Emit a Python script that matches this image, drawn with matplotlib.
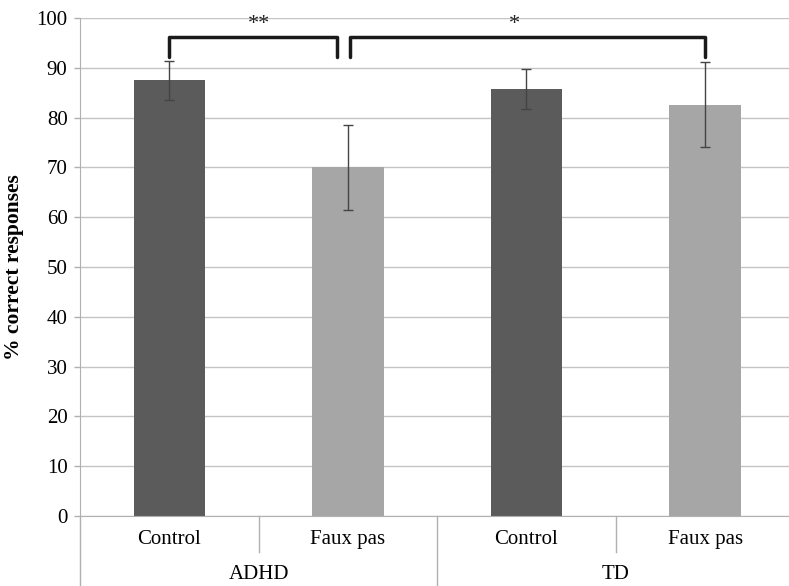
import matplotlib.pyplot as plt
import matplotlib.transforms as mtransforms

conditions = ['Control', 'Faux pas', 'Control', 'Faux pas']
groups = ['ADHD', 'TD']
means = [87.5, 70.0, 85.8, 82.6]
errors = [3.9, 8.5, 4.0, 8.5]
colors = ['#5b5b5b', '#a6a6a6', '#5b5b5b', '#a6a6a6']
yticks = [0, 10, 20, 30, 40, 50, 60, 70, 80, 90, 100]

plt.rcParams['font.family'] = ['Liberation Serif', 'DejaVu Serif']

fig = plt.figure(figsize=(7.89, 5.86), dpi=100)
ax = fig.add_axes([80 / 789, 70 / 586, 1 - 80 / 789, 498 / 586])

x = range(len(means))
ax.bar(x, means, width=0.4, color=colors, zorder=2)
ax.errorbar(x, means, yerr=errors, fmt='none', ecolor='#444444',
            elinewidth=1.0, capsize=3.5, capthick=1.0, zorder=3)

ax.set_xlim(-0.5, 3.47)
ax.set_ylim(0, 100)
ax.set_yticks(yticks)
ax.yaxis.grid(True, color='#c4c4c4', linewidth=1.0, zorder=0)
ax.tick_params(axis='y', labelsize=15, length=4, color='#b0b0b0', width=1, pad=5)
ax.tick_params(axis='x', bottom=False, labelbottom=False)
for s in ['top', 'right']:
    ax.spines[s].set_visible(False)
ax.spines['left'].set_color('#b0b0b0')
ax.spines['bottom'].set_color('#b0b0b0')
ax.set_ylabel('% correct responses', fontsize=15.5, fontweight='bold', labelpad=9)

# two-level category axis
trans = mtransforms.blended_transform_factory(ax.transData, ax.transAxes)
for i, c in enumerate(conditions):
    ax.text(i, -0.048, c, transform=trans, ha='center', va='center', fontsize=15)
for j, g in enumerate(groups):
    ax.text(2 * j + 0.5, -0.118, g, transform=trans, ha='center', va='center', fontsize=15)
for xs in [0.5, 2.5]:
    ax.plot([xs, xs], [0, -0.072], transform=trans, color='#b0b0b0', lw=1, clip_on=False)
for xs in [-0.5, 1.5]:
    ax.plot([xs, xs], [0, -0.145], transform=trans, color='#b0b0b0', lw=1, clip_on=False)

# significance brackets
def bracket(x0, x1, label, xt):
    ax.plot([x0, x0, x1, x1], [92.2, 96.2, 96.2, 92.2], color='#1a1a1a', lw=2.5,
            solid_joinstyle='round', solid_capstyle='round', zorder=4, clip_on=False)
    ax.text(xt, 98.6, label, ha='center', va='center', fontsize=16, color='#222222')

bracket(0.0, 0.94, '**', 0.5)
bracket(1.01, 3.0, '*', 1.93)

fig.savefig('out.png', dpi=100)
